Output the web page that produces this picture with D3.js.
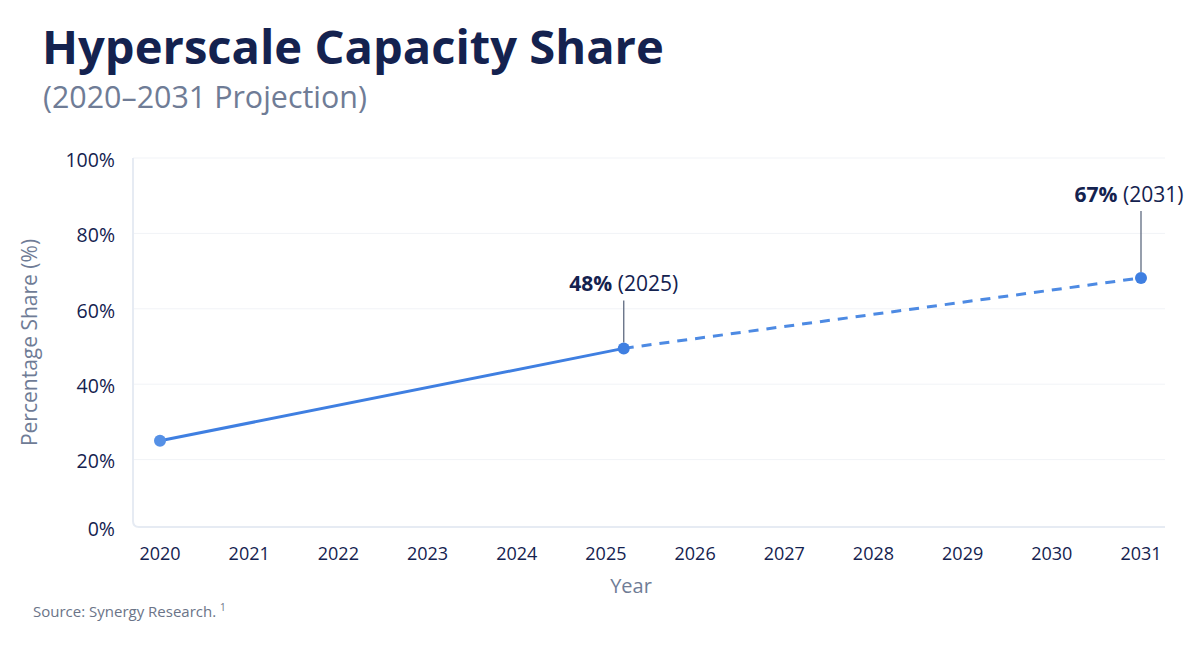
<!DOCTYPE html>
<html>
<head>
<meta charset="utf-8">
<script src="https://cdn.jsdelivr.net/npm/d3@7"></script>
<style>
  html, body { margin: 0; padding: 0; background: #fff; }
  svg { display: block; font-family: "Open Sans", "Noto Sans", sans-serif; }
</style>
</head>
<body>
<svg id="chart" width="1200" height="647"></svg>
<script>
// chart data
const years = [2020, 2021, 2022, 2023, 2024, 2025, 2026, 2027, 2028, 2029, 2030, 2031];
const yTicks = [0, 20, 40, 60, 80, 100];
const actual = [
  { year: 2020, value: 25 },
  { year: 2025.2, value: 49.5 },
];
const projected = [
  { year: 2025.2, value: 49.5 },
  { year: 2031, value: 68.2 },
];
const callouts = [
  { year: 2025.2, value: 49.5, pct: "48%", tag: " (2025)", dx: 0, lift: 57 },
  { year: 2031, value: 68.2, pct: "67%", tag: " (2031)", dx: -12, lift: 76 },
];

const svg = d3.select("#chart");
const navy = "#14224f";
const grey = "#6f7c96";
const blue = "#3f7fe1";

// plot frame
const fr = { left: 133, right: 1165, top: 158, bottom: 527 };

const x = d3.scaleLinear().domain([2020, 2031]).range([160, 1141]);
const y = d3.scaleLinear().domain([0, 100]).range([535, 158]);

// titles
const title = svg.append("text")
  .attr("x", 42).attr("y", 64)
  .attr("fill", navy)
  .attr("font-size", 46)
  .attr("font-weight", 700)
  .text("Hyperscale Capacity Share");
// fit title width to the reference
const tw = title.node().getComputedTextLength();
title.attr("font-size", 46 * 622 / tw);

const sub = svg.append("text")
  .attr("x", 43).attr("y", 108)
  .attr("fill", grey)
  .attr("font-size", 27)
  .text("(2020\u20132031 Projection)");
const sw = sub.node().getComputedTextLength();
sub.attr("font-size", 27 * 324 / sw);

// grid lines
svg.append("g")
  .selectAll("line")
  .data(yTicks.filter((d) => d > 0))
  .join("line")
  .attr("x1", fr.left).attr("x2", fr.right)
  .attr("y1", (d) => y(d)).attr("y2", (d) => y(d))
  .attr("stroke", "#f1f3f7")
  .attr("stroke-width", 1);

// left + bottom frame with rounded corner
svg.append("path")
  .attr("d", `M${fr.left},${fr.top} V${fr.bottom - 6} Q${fr.left},${fr.bottom} ${fr.left + 6},${fr.bottom} H${fr.right}`)
  .attr("fill", "none")
  .attr("stroke", "#e6ebf3")
  .attr("stroke-width", 2);

// y tick labels
svg.append("g")
  .selectAll("text")
  .data(yTicks)
  .join("text")
  .attr("x", 115)
  .attr("y", (d) => Math.min(y(d), fr.bottom) + 2)
  .attr("dy", "0.35em")
  .attr("text-anchor", "end")
  .attr("fill", navy)
  .attr("font-size", 19.5)
  .text((d) => d + "%");

// x tick labels
svg.append("g")
  .selectAll("text")
  .data(years)
  .join("text")
  .attr("x", (d) => x(d))
  .attr("y", 554)
  .attr("dy", "0.35em")
  .attr("text-anchor", "middle")
  .attr("fill", navy)
  .attr("font-size", 18)
  .text((d) => d);

// axis titles
svg.append("text")
  .attr("transform", `translate(30, ${(fr.top + fr.bottom) / 2}) rotate(-90)`)
  .attr("dy", "0.35em")
  .attr("text-anchor", "middle")
  .attr("fill", grey)
  .attr("font-size", 21)
  .text("Percentage Share (%)");

svg.append("text")
  .attr("x", 631).attr("y", 586)
  .attr("dy", "0.35em")
  .attr("text-anchor", "middle")
  .attr("fill", grey)
  .attr("font-size", 20)
  .text("Year");

// lines
const line = d3.line().x((d) => x(d.year)).y((d) => y(d.value));

svg.append("path")
  .datum(actual)
  .attr("d", line)
  .attr("fill", "none")
  .attr("stroke", blue)
  .attr("stroke-width", 3)
  .attr("stroke-linecap", "round");

svg.append("path")
  .datum(projected)
  .attr("d", line)
  .attr("fill", "none")
  .attr("stroke", "#4d8ae3")
  .attr("stroke-width", 3)
  .attr("stroke-dasharray", "10,8");

// callout leader lines
svg.append("g")
  .selectAll("line")
  .data(callouts)
  .join("line")
  .attr("x1", (d) => x(d.year)).attr("x2", (d) => x(d.year))
  .attr("y1", (d) => y(d.value) - d.lift + 9)
  .attr("y2", (d) => y(d.value) - 6)
  .attr("stroke", "#5f6b80")
  .attr("stroke-width", 1.3);

// points
const pts = [actual[0], actual[1], projected[1]];
svg.append("g")
  .selectAll("circle")
  .data(pts)
  .join("circle")
  .attr("cx", (d) => x(d.year))
  .attr("cy", (d) => y(d.value))
  .attr("r", 6)
  .attr("fill", (d, i) => (i === 0 ? "#5590e6" : blue));

// callout labels
const lbl = svg.append("g")
  .selectAll("text")
  .data(callouts)
  .join("text")
  .attr("x", (d) => x(d.year) + d.dx)
  .attr("y", (d) => y(d.value) - d.lift)
  .attr("text-anchor", "middle")
  .attr("fill", navy)
  .attr("font-size", 21);
lbl.append("tspan").attr("font-weight", 700).text((d) => d.pct);
lbl.append("tspan").text((d) => d.tag);

// source note
const src = svg.append("text")
  .attr("x", 33).attr("y", 617)
  .attr("fill", "#6b7488")
  .attr("font-size", 15)
  .text("Source: Synergy Research. ");
src.append("tspan")
  .attr("font-size", 10)
  .attr("dy", -6)
  .text("1");
</script>
</body>
</html>
